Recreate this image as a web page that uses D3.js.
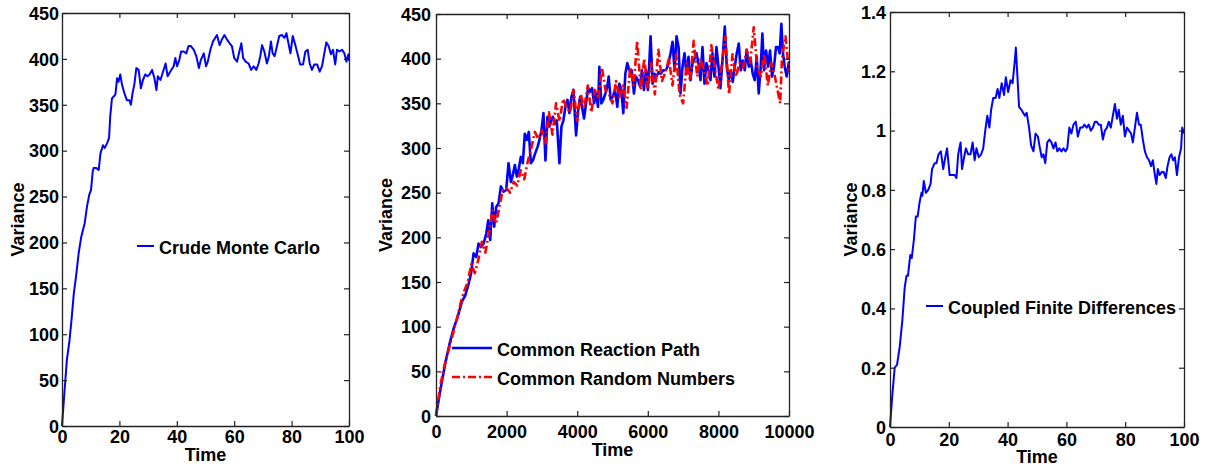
<!DOCTYPE html>
<html>
<head>
<meta charset="utf-8">
<script src="https://cdn.jsdelivr.net/npm/d3@7"></script>
<style>
body { margin: 0; background: #fff; }
svg text { font-family: "Liberation Sans", Arial, sans-serif; font-weight: bold; fill: #000; }
</style>
</head>
<body>
<svg id="chart" width="1210" height="467"></svg>
<script>
// Panel 1 - Crude Monte Carlo
const cmcTime = [0,0.9,1.7,2.6,3.3,4.1,4.9,5.8,6.7,7.9,8.7,9.5,10.1,10.7,11,12,12.8,13.4,14.3,14.9,15.7,16.4,16.8,17.4,18,18.6,19.2,19.7,20.3,20.9,21.7,22.6,23.5,24,24.6,25.2,25.9,26.7,27.5,28.2,29,29.8,30.5,31.4,32.2,32.9,33.4,34.3,35.2,36.1,36.8,37.7,38.9,39.5,40.1,40.9,41.5,42.4,43.3,44.1,44.9,45.9,46.8,47.7,48.4,49.4,50.2,50.8,51.7,52.6,53.4,54,54.9,55.7,56.6,57.5,58.4,59.2,60,61,61.8,62.5,63.1,64,65,65.9,66.8,67.7,68.5,69.1,69.7,70.5,71.4,72.1,72.8,73.4,74.1,74.9,75.7,76.7,77.5,78.2,78.9,79.6,80.4,81.3,82.1,83,84,84.8,85.6,86.3,87.1,87.9,88.9,89.8,90.6,91.4,92.1,92.9,93.7,94.4,95.2,95.8,96.7,97.6,98.4,99.1,99.8,100];
const cmcVar = [0,39,72,93,115,144,163,188,206,221,239,252,257,277,281,281,279,297,306,303,308,314,337,357,359,361,379,375,383,372,363,355,355,350,363,372,390,388,368,377,383,381,383,388,379,366,381,377,386,395,381,386,392,401,392,399,408,408,406,414,414,410,403,390,399,406,392,397,410,419,423,426,415,421,426,421,417,414,401,397,408,417,401,397,395,388,392,388,395,403,415,408,395,403,419,406,403,414,425,426,423,428,417,406,425,415,405,394,394,408,410,395,388,394,394,386,392,406,418,414,405,410,394,410,408,410,406,397,405,398];

// Panel 2 - Common Reaction Path (blue) and Common Random Numbers (red)
const crpTime = [0,123,264,386,500,613,735,829,924,990,1065,1140,1206,1272,1348,1423,1480,1536,1593,1649,1706,1772,1838,1913,1989,2055,2121,2177,2234,2290,2347,2403,2460,2516,2573,2630,2686,2743,2809,2875,2931,2988,3044,3101,3157,3214,3261,3308,3365,3421,3497,3553,3610,3666,3723,3779,3836,3893,3968,4025,4081,4138,4194,4251,4307,4364,4420,4477,4533,4590,4628,4684,4741,4797,4854,4892,4948,5005,5071,5137,5193,5250,5306,5363,5419,5476,5542,5608,5664,5721,5778,5834,5891,5947,6004,6079,6136,6192,6249,6306,6362,6437,6513,6579,6645,6701,6758,6814,6871,6927,6984,7040,7097,7153,7210,7266,7323,7379,7436,7493,7549,7606,7662,7719,7775,7832,7889,7945,8002,8058,8115,8181,8237,8294,8350,8407,8464,8520,8577,8633,8690,8746,8803,8860,8916,8973,9029,9086,9142,9199,9246,9293,9350,9406,9463,9519,9576,9632,9689,9736,9783,9830,9878,9934,10000];
const crpVar = [0,29,59,81,98,111,128,135,148,159,182,178,193,189,193,204,219,197,238,212,234,238,257,251,253,283,262,270,281,268,277,290,283,316,309,318,283,286,294,301,309,320,339,286,335,324,331,335,327,331,283,324,331,346,354,339,357,365,314,342,357,346,333,350,367,363,367,350,361,346,391,350,354,361,369,380,354,357,365,346,372,365,339,383,395,387,387,361,380,376,369,387,365,387,365,425,372,383,380,385,383,387,387,393,406,419,387,425,413,361,391,406,383,402,376,395,400,406,395,376,413,372,395,387,376,406,380,413,391,367,398,436,391,376,387,374,391,406,417,387,398,387,410,391,398,383,376,402,361,391,428,387,409,391,409,380,391,413,413,406,439,406,391,380,397];
const crnTime = [0,100,200,300,400,500,600,700,800,900,1000,1100,1200,1300,1400,1500,1600,1700,1800,1900,2000,2100,2200,2300,2400,2500,2600,2700,2800,2900,3000,3100,3200,3300,3400,3500,3600,3700,3800,3900,4000,4100,4200,4300,4400,4500,4600,4700,4800,4900,5000,5100,5200,5300,5400,5500,5600,5700,5800,5900,6000,6100,6200,6300,6400,6500,6600,6700,6800,6900,7000,7100,7200,7300,7400,7500,7600,7700,7800,7900,8000,8100,8200,8300,8400,8500,8600,8700,8800,8900,9000,9100,9200,9300,9400,9500,9600,9700,9750,9800,9900,10000];
const crnVar = [0,28,50,66,80,95,110,127,140,150,170,160,175,195,183,205,230,215,235,255,255,250,262,258,275,265,285,300,318,310,320,305,340,315,350,330,355,345,340,365,330,360,345,370,340,365,355,390,365,360,350,375,355,370,345,390,370,420,365,400,365,395,360,410,375,385,400,370,405,360,350,395,375,420,380,400,385,370,415,390,365,395,425,360,405,380,395,390,410,395,435,390,380,405,370,395,380,360,350,400,425,385];

// Panel 3 - Coupled Finite Differences
const cfdTime = [0,0.8,1.6,2.4,3.3,4.2,5,5.6,6.1,6.9,7.4,8.1,8.8,9.4,10.1,10.7,11,11.5,12.2,13,13.8,14.3,15.2,15.8,16.5,17.3,18.1,18.8,19.4,20.3,21.3,22,22.6,23.2,24,24.5,25.2,25.8,26.6,27.4,28.1,28.8,29.4,30.2,31,31.7,32.4,33.1,33.8,34.4,35.1,35.9,36.6,37.2,38,38.8,39.4,40.2,41,41.7,42.5,42.8,43.3,43.9,44.7,45.3,45.9,46.5,47.3,48,48.8,49.5,50.3,51,51.6,52.2,52.8,53.5,54.2,54.9,55.6,56.3,56.9,57.6,58.3,59,59.7,60.3,61,61.7,62.4,63.2,63.9,64.7,65.5,66.1,66.9,67.6,68.3,69,69.7,70.3,71,71.7,72.4,73.1,73.8,74.4,75.1,75.8,76.5,77.2,77.8,78.5,79.2,79.9,80.6,81.3,82,82.6,83.3,84,84.7,85.3,86,86.7,87.4,88.1,88.8,89.4,90.1,90.6,91.1,91.7,92.4,93.1,93.8,94.4,95.1,95.7,96.3,96.9,97.6,98.3,99,99.4,100];
const cfdVar = [0,0.11,0.20,0.21,0.27,0.36,0.47,0.51,0.51,0.58,0.57,0.63,0.71,0.71,0.76,0.79,0.78,0.83,0.79,0.80,0.82,0.87,0.89,0.89,0.92,0.93,0.87,0.91,0.94,0.85,0.85,0.85,0.84,0.92,0.96,0.87,0.91,0.94,0.92,0.92,0.96,0.90,0.94,0.91,0.92,0.94,1.00,1.05,1.01,1.07,1.11,1.11,1.14,1.11,1.16,1.12,1.18,1.13,1.17,1.16,1.24,1.28,1.19,1.08,1.07,1.06,1.05,1.06,1.01,0.95,0.93,0.99,0.98,0.94,0.91,0.92,0.89,0.96,0.97,0.96,0.94,0.96,0.93,0.94,0.93,0.94,0.93,0.94,1.01,0.99,1.02,1.03,0.98,1.01,1.01,1.02,1.01,1.02,1.00,1.01,1.03,1.03,1.02,1.02,0.97,1.00,1.01,1.03,1.01,1.05,1.09,1.04,1.07,1.02,1.05,0.98,1.01,1.00,0.99,0.96,1.01,1.06,1.02,1.02,0.97,0.93,0.91,0.90,0.88,0.90,0.85,0.82,0.87,0.85,0.86,0.86,0.84,0.88,0.91,0.92,0.90,0.91,0.85,0.91,0.94,1.01,0.99];

const ticks100 = [0, 20, 40, 60, 80, 100];
const ticks10000 = [0, 2000, 4000, 6000, 8000, 10000];
const ticks450 = [0, 50, 100, 150, 200, 250, 300, 350, 400, 450];
const ticks14 = [0, 0.2, 0.4, 0.6, 0.8, 1, 1.2, 1.4];
const ticks14Labels = ["0", "0.2", "0.4", "0.6", "0.8", "1", "1.2", "1.4"];

const svg = d3.select("#chart");

function panel(p) {
    const x = d3.scaleLinear().domain(p.xDomain).range([p.left, p.right]);
    const y = d3.scaleLinear().domain(p.yDomain).range([p.bottom, p.top]);
    const g = svg.append("g");

    // series
    p.series.forEach(s => {
        g.append("path")
            .datum(d3.zip(s.t, s.v))
            .attr("fill", "none")
            .attr("stroke", s.color)
            .attr("stroke-width", s.width)
            .attr("stroke-dasharray", s.dash || null)
            .attr("stroke-linejoin", "round")
            .attr("d", d3.line().x(d => x(d[0])).y(d => y(d[1])));
    });

    // box + inward ticks on all sides
    const tk = 5;
    const fmtY = p.yLabels ? (d, i) => p.yLabels[i] : d3.format("d");
    const left = g.append("g").attr("transform", `translate(${p.left},0)`)
        .call(d3.axisLeft(y).tickValues(p.yTicks).tickFormat(fmtY).tickSize(-tk).tickSizeOuter(0).tickPadding(p.yPad));
    const right = g.append("g").attr("transform", `translate(${p.right},0)`)
        .call(d3.axisRight(y).tickValues(p.yTicks).tickFormat("").tickSize(-tk).tickSizeOuter(0));
    const bottom = g.append("g").attr("transform", `translate(0,${p.bottom})`)
        .call(d3.axisBottom(x).tickValues(p.xTicks).tickFormat(d3.format("d")).tickSize(-tk).tickSizeOuter(0).tickPadding(p.xPad));
    const top = g.append("g").attr("transform", `translate(0,${p.top})`)
        .call(d3.axisTop(x).tickValues(p.xTicks).tickFormat("").tickSize(-tk).tickSizeOuter(0));
    [left, right, bottom, top].forEach(a => {
        a.selectAll("path").attr("stroke", "#222").attr("stroke-width", 1.3);
        a.selectAll("line").attr("stroke", "#222").attr("stroke-width", 1.2);
        a.selectAll("text").attr("font-size", 18).attr("font-family", null);
    });
    left.selectAll("text").attr("dy", "0.35em");

    // axis labels
    g.append("text").attr("x", (p.left + p.right) / 2).attr("y", p.timeY)
        .attr("text-anchor", "middle").attr("font-size", 18).text("Time");
    g.append("text").attr("transform", `translate(${p.varX},${(p.top + p.bottom) / 2}) rotate(-90)`)
        .attr("text-anchor", "middle").attr("font-size", 18).text("Variance");

    // legend
    p.legend.forEach((l, i) => {
        const ly = l.y;
        g.append("line").attr("x1", l.x1).attr("x2", l.x2).attr("y1", ly).attr("y2", ly)
            .attr("stroke", p.series[i].color).attr("stroke-width", p.series[i].width)
            .attr("stroke-dasharray", p.series[i].dash || null);
        g.append("text").attr("x", l.x2 + 5).attr("y", ly + 8).attr("font-size", 18).text(l.label);
    });
}

panel({
    left: 62, right: 349, top: 13, bottom: 426,
    xDomain: [0, 100], yDomain: [0, 450], xTicks: ticks100, yTicks: ticks450,
    xPad: 4, yPad: 3, timeY: 461, varX: 24,
    series: [{ t: cmcTime, v: cmcVar, color: "#0000ff", width: 2 }],
    legend: [{ x1: 137, x2: 154, y: 246, label: "Crude Monte Carlo" }]
});

panel({
    left: 436, right: 789, top: 14, bottom: 416,
    xDomain: [0, 10000], yDomain: [0, 450], xTicks: ticks10000, yTicks: ticks450,
    xPad: 9, yPad: 5, timeY: 456, varX: 392,
    series: [
        { t: crpTime, v: crpVar, color: "#0000ff", width: 2.6 },
        { t: crnTime, v: crnVar, color: "#ff0000", width: 2.6, dash: "8,3,2,3" }
    ],
    legend: [
        { x1: 452, x2: 492, y: 348, label: "Common Reaction Path" },
        { x1: 452, x2: 492, y: 377, label: "Common Random Numbers" }
    ]
});

panel({
    left: 890, right: 1184, top: 12, bottom: 427,
    xDomain: [0, 100], yDomain: [0, 1.4], xTicks: ticks100, yTicks: ticks14, yLabels: ticks14Labels,
    xPad: 6.5, yPad: 4, timeY: 463, varX: 857,
    series: [{ t: cfdTime, v: cfdVar, color: "#0000ff", width: 2 }],
    legend: [{ x1: 926, x2: 943, y: 306, label: "Coupled Finite Differences" }]
});
</script>
</body>
</html>
